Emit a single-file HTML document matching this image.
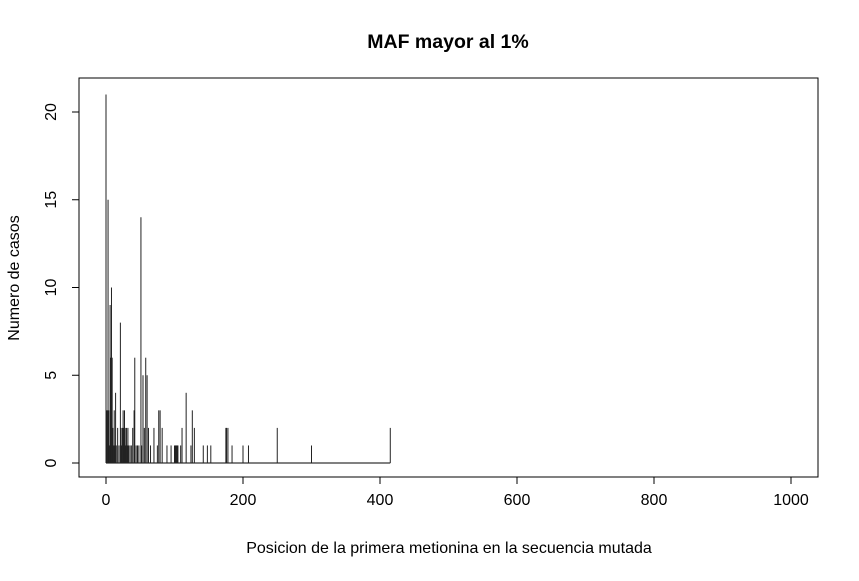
<!DOCTYPE html>
<html><head><meta charset="utf-8"><style>
body{margin:0;background:#fff}
svg text{font-family:"Liberation Sans",sans-serif;fill:#000}
</style></head><body>
<svg width="859" height="576">
<text x="448" y="48" text-anchor="middle" font-size="19.5" font-weight="bold">MAF mayor al 1%</text>
<rect x="79" y="78" width="739" height="399" fill="none" stroke="#000" stroke-width="1"/>
<g id="xaxis"></g>
<g id="yaxis"></g>
<g id="marks"></g>
<text x="449" y="553" text-anchor="middle" font-size="16">Posicion de la primera metionina en la secuencia mutada</text>
<text transform="translate(19,278) rotate(-90)" text-anchor="middle" font-size="16">Numero de casos</text>
</svg>
<script>
const positions=[0,1,2,3,4,5,6,7,8,9,10,11,12,13,14,15,17,19,21,22,23,24,25,26,27,28,29,30,31,32,33,35,37,39,41,42,44,46,48,51,52,54,56,58,60,62,65,70,75,77,79,82,89,95,100,101,102,103,104,105,109,111,117,124,126,129,142,148,153,175,176,178,184,200,208,250,300,415];
const counts=[21,3,3,15,3,1,9,6,10,6,2,1,3,1,4,1,2,1,8,2,1,2,3,2,3,2,1,2,1,2,1,1,1,2,3,6,1,1,1,14,1,5,2,6,5,2,1,2,1,3,3,2,1,1,1,1,1,1,1,1,1,2,4,1,3,2,1,1,1,2,2,2,1,1,1,2,1,2];
const xTicks=[0,200,400,600,800,1000];
const yTicks=[0,5,10,15,20];
const X=v=>106+v*0.685, Y=v=>463-v*17.55;
const ns="http://www.w3.org/2000/svg";
function mk(t,a,p){const e=document.createElementNS(ns,t);for(const k in a)e.setAttribute(k,a[k]);p.appendChild(e);return e;}
const xa=document.getElementById('xaxis'),ya=document.getElementById('yaxis'),mg=document.getElementById('marks');
mk('line',{x1:X(0),x2:X(1000),y1:477,y2:477,stroke:'#000'},xa);
xTicks.forEach(t=>{
  const l=mk('line',{x1:X(t),x2:X(t),y1:477,y2:484,stroke:'#000'},xa);
  
  
  const tx=mk('text',{x:X(t),y:505,'text-anchor':'middle','font-size':16},xa);tx.textContent=t;
  
  
});
mk('line',{x1:79,x2:79,y1:Y(0),y2:Y(20),stroke:'#000'},ya);
yTicks.forEach(t=>{
  const l=mk('line',{x1:72,x2:79,y1:Y(t),y2:Y(t),stroke:'#000'},ya);
  
  
  const tx=mk('text',{transform:`translate(56,${Y(t)}) rotate(-90)`,'text-anchor':'middle','font-size':16},ya);tx.textContent=t;
  
  
});
const base=mk('line',{x1:X(0),x2:X(positions[positions.length-1]),y1:Y(0),y2:Y(0),stroke:'#000','stroke-width':1},mg);


positions.forEach((p,i)=>{
  const l=mk('line',{x1:X(p),x2:X(p),y1:Y(0),y2:Y(counts[i]),stroke:'#222','stroke-width':1},mg);
  
  
});
</script>
</body></html>
